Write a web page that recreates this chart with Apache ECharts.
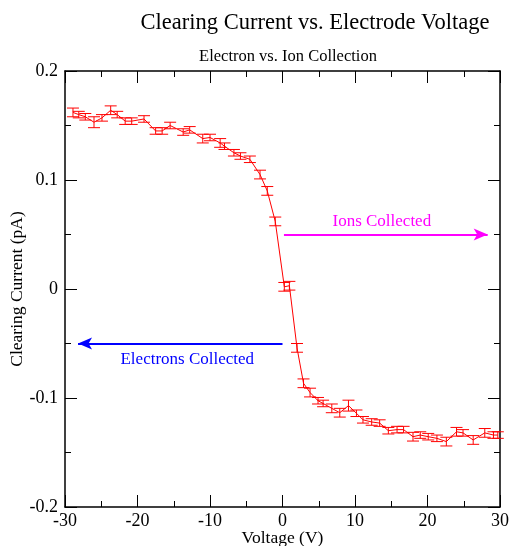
<!DOCTYPE html>
<html>
<head>
<meta charset="utf-8">
<script src="https://cdn.jsdelivr.net/npm/echarts@6/dist/echarts.min.js"></script>
<style>
  html, body { margin: 0; padding: 0; background: #fff; }
  #main { width: 512px; height: 546px; }
</style>
</head>
<body>
<div id="main"></div>
<script>
// electrode voltage (V)
var volts = [-28.9, -28.1, -27.2, -26.0, -24.9, -23.7, -22.8, -21.7, -20.8, -19.1,
  -17.5, -16.6, -15.5, -13.7, -12.8, -11.0, -10.0, -8.6, -8.0, -6.7,
  -5.8, -4.5, -3.1, -2.1, -1.0, 0.25, 0.95, 2.0, 2.9, 3.8,
  4.9, 5.6, 6.8, 7.9, 9.1, 10.2, 11.1, 12.3, 13.4, 14.6,
  15.8, 16.7, 18.0, 19.0, 20.1, 21.3, 22.6, 24.0, 24.9, 26.3,
  27.9, 29.1, 29.7];
// clearing current (pA)
var current = [0.162, 0.160, 0.158, 0.153, 0.157, 0.164, 0.160, 0.154, 0.154, 0.156,
  0.145, 0.145, 0.150, 0.144, 0.146, 0.138, 0.139, 0.134, 0.131, 0.125,
  0.122, 0.119, 0.105, 0.090, 0.062, 0.002, 0.003, -0.054, -0.0865, -0.095,
  -0.1025, -0.105, -0.1095, -0.1135, -0.107, -0.114, -0.120, -0.122, -0.123, -0.130,
  -0.129, -0.129, -0.1355, -0.134, -0.1355, -0.137, -0.140, -0.131, -0.132, -0.1385,
  -0.132, -0.134, -0.134];
// error (+/-)
var errs = [0.004, 0.003, 0.003, 0.005, 0.003, 0.004, 0.003, 0.003, 0.003, 0.003,
  0.003, 0.003, 0.003, 0.003, 0.003, 0.004, 0.003, 0.004, 0.003, 0.003,
  0.003, 0.003, 0.004, 0.004, 0.004, 0.004, 0.004, 0.004, 0.004, 0.004,
  0.003, 0.003, 0.004, 0.004, 0.005, 0.003, 0.003, 0.003, 0.003, 0.003,
  0.003, 0.003, 0.004, 0.003, 0.003, 0.003, 0.004, 0.004, 0.003, 0.004,
  0.004, 0.003, 0.003];

var lineData = volts.map(function (v, i) { return [v, current[i]]; });
var errData = volts.map(function (v, i) { return [v, current[i] - errs[i], current[i] + errs[i]]; });

var chart = echarts.init(document.getElementById('main'));
var font = 'Liberation Serif, Times New Roman, serif';

function axisBase(pos, show) {
  return {
    position: pos,
    axisLine: { show: true, onZero: false, lineStyle: { color: '#000', width: 1.5 } },
    axisTick: { show: true, inside: true, length: 12, lineStyle: { color: '#000', width: 1 } },
    minorTick: { show: true, splitNumber: 2, length: 6, lineStyle: { color: '#000', width: 1 } },
    splitLine: { show: false },
    axisLabel: { show: show, color: '#000', fontFamily: font, fontSize: 18, margin: 5 }
  };
}

var xBottom = axisBase('bottom', true);
Object.assign(xBottom, {
  type: 'value', min: -30, max: 30, interval: 10,
  name: 'Voltage (V)', nameLocation: 'middle', nameGap: 22, nameMoveOverlap: false,
  nameTextStyle: { color: '#000', fontFamily: font, fontSize: 17.5 }
});
var xTop = axisBase('top', false);
Object.assign(xTop, { type: 'value', min: -30, max: 30, interval: 10 });

var yLeft = axisBase('left', true);
Object.assign(yLeft, {
  type: 'value', min: -0.2, max: 0.2, interval: 0.1,
  name: 'Clearing Current (pA)', nameLocation: 'middle', nameGap: 39, nameMoveOverlap: false,
  nameTextStyle: { color: '#000', fontFamily: font, fontSize: 17.5 }
});
yLeft.axisLabel.margin = 7;
yLeft.axisLabel.formatter = function (v) { return String(Math.round(v * 10) / 10); };
var yRight = axisBase('right', false);
Object.assign(yRight, { type: 'value', min: -0.2, max: 0.2, interval: 0.1 });

chart.setOption({
  animation: false,
  backgroundColor: '#fff',
  title: [
    {
      text: 'Clearing Current vs. Electrode Voltage',
      left: 310, top: 7, textAlign: 'center',
      textStyle: { fontFamily: font, fontSize: 22.5, fontWeight: 'normal', color: '#000' }
    },
    {
      text: 'Electron vs. Ion Collection',
      left: 283, top: 43, textAlign: 'center',
      textStyle: { fontFamily: font, fontSize: 16.5, fontWeight: 'normal', color: '#000' }
    }
  ],
  grid: { left: 65, right: 12, top: 71, bottom: 39, outerBoundsMode: 'none', containLabel: false },
  xAxis: [xBottom, xTop],
  yAxis: [yLeft, yRight],
  series: [
    {
      type: 'line',
      data: lineData,
      showSymbol: false,
      lineStyle: { color: '#ff0000', width: 1 },
      z: 3,
      markLine: {
        silent: true,
        symbolSize: [9, 14],
        data: [
          [
            { coord: [0.2, 0.05], symbol: 'none' },
            { coord: [28.3, 0.05], symbol: 'arrow' }
          ],
          [
            { coord: [-28.2, -0.05], symbol: 'arrow' },
            { coord: [0, -0.05], symbol: 'none' }
          ]
        ].map(function (d, i) {
          var col = i === 0 ? '#ff00ff' : '#0000ff';
          d[0].lineStyle = { color: col, width: 2, type: 'solid' };
          d[0].itemStyle = { color: col };
          d[0].label = {
            show: true,
            formatter: i === 0 ? 'Ions Collected' : 'Electrons Collected',
            position: i === 0 ? 'insideMiddleTop' : 'insideMiddleBottom',
            distance: i === 0 ? 4 : 8,
            offset: i === 0 ? [-4, 0] : [7, 0],
            color: col, fontFamily: font, fontSize: 17
          };
          return d;
        })
      }
    },
    {
      type: 'custom',
      data: errData,
      z: 4,
      renderItem: function (params, api) {
        var x = api.value(0);
        var lo = api.coord([x, api.value(1)]);
        var hi = api.coord([x, api.value(2)]);
        var w = 6;
        var st = { stroke: '#ff0000', lineWidth: 1 };
        return {
          type: 'group',
          children: [
            { type: 'line', shape: { x1: lo[0], y1: lo[1], x2: hi[0], y2: hi[1] }, style: st },
            { type: 'line', shape: { x1: lo[0] - w, y1: lo[1], x2: lo[0] + w, y2: lo[1] }, style: st },
            { type: 'line', shape: { x1: hi[0] - w, y1: hi[1], x2: hi[0] + w, y2: hi[1] }, style: st }
          ]
        };
      }
    }
  ]
});
</script>
</body>
</html>
